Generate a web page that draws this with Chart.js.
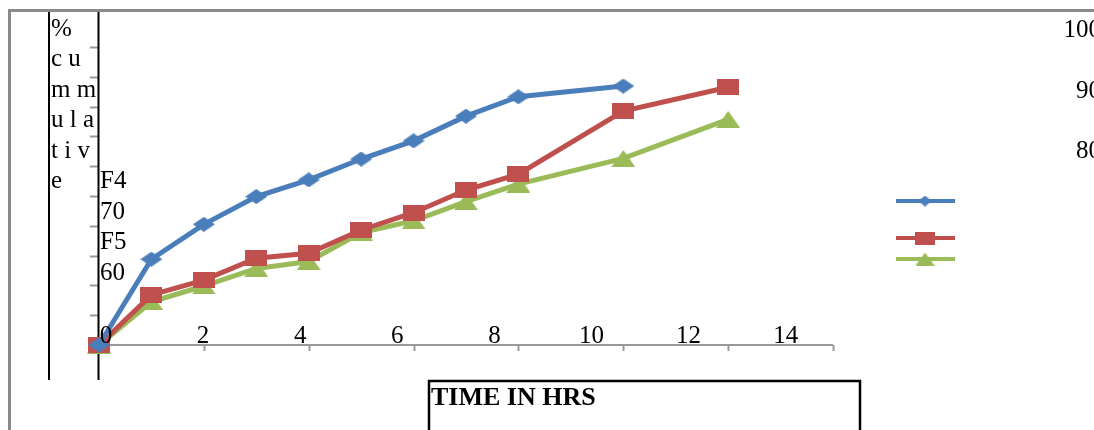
<!DOCTYPE html>
<html>
<head>
<meta charset="utf-8">
<script src="https://cdn.jsdelivr.net/npm/chart.js@4.4.1/dist/chart.umd.min.js"></script>
<style>
  html, body { margin: 0; padding: 0; background: #fff; }
  #wrap { width: 1094px; height: 430px; position: relative; }
</style>
</head>
<body>
<div id="wrap"><canvas id="chart" width="1094" height="430"></canvas></div>
<script>
// ── DATA ──
const hoursF3   = [0, 1, 2, 3, 4, 5, 6, 7, 8, 10];
const hoursF4F5 = [0, 1, 2, 3, 4, 5, 6, 7, 8, 10, 12];
const releaseF3 = [0, 28.8, 40.5, 49.8, 55.4, 62.4, 68.5, 76.8, 83.3, 86.9];
const releaseF4 = [0, 16.8, 21.8, 29.1, 30.8, 38.6, 44.4, 52.0, 57.3, 78.5, 86.5];
const releaseF5 = [0, 14.5, 19.8, 25.7, 28.0, 37.7, 41.7, 48.1, 54.0, 62.6, 75.7];
const seriesNames = ["F3", "F4", "F5"];
const xTicks = [0, 2, 4, 6, 8, 10, 12, 14];
const yTicks = [0, 10, 20, 30, 40, 50, 60, 70, 80, 90, 100];
const yTitleLines = ["%", "c u", "m m", "u l a", "t i v", "e"];
const xTitle = "TIME IN HRS";

const BLUE  = "#4a7ebb";
const RED   = "#c0504d";
const GREEN = "#9bbb59";
const FONT  = "25px 'Liberation Serif', 'Times New Roman', serif";

const pts = (xs, ys) => xs.map((x, i) => ({ x, y: ys[i] }));

// Excel-like markers are a bit wider than tall, so build them as small images
function marker(shape, w, h, color) {
  const c = document.createElement("canvas");
  c.width = w; c.height = h;
  const g = c.getContext("2d");
  g.fillStyle = color;
  g.beginPath();
  if (shape === "diamond") {
    g.moveTo(w / 2, 0); g.lineTo(w, h / 2); g.lineTo(w / 2, h); g.lineTo(0, h / 2);
  } else if (shape === "triangle") {
    g.moveTo(w / 2, 0); g.lineTo(w, h); g.lineTo(0, h);
  } else {
    g.rect(0, 0, w, h);
  }
  g.closePath();
  g.fill();
  return c;
}

// ── AXES, FRAME AND THE (SCRAMBLED) TEXT ──
const decor = {
  id: "decor",
  beforeDatasetsDraw(chart) {
    const { ctx, scales: { x, y } } = chart;
    ctx.save();
    // outer grey frame
    ctx.strokeStyle = "#8a8a8a";
    ctx.lineWidth = 3;
    ctx.beginPath();
    ctx.moveTo(9.5, 430); ctx.lineTo(9.5, 10.5); ctx.lineTo(1094, 10.5);
    ctx.stroke();

    // x axis + ticks
    ctx.strokeStyle = "#9a9a9a";
    ctx.lineWidth = 2;
    ctx.beginPath();
    ctx.moveTo(x.getPixelForValue(0), y.getPixelForValue(0));
    ctx.lineTo(x.getPixelForValue(14), y.getPixelForValue(0));
    xTicks.forEach(v => {
      const px = Math.round(x.getPixelForValue(v)) + 0.5;
      ctx.moveTo(px, y.getPixelForValue(0));
      ctx.lineTo(px, y.getPixelForValue(0) + 6);
    });
    ctx.stroke();

    // y ticks (left of the axis)
    ctx.beginPath();
    yTicks.forEach(v => {
      const py = Math.round(y.getPixelForValue(v)) + 0.5;
      ctx.moveTo(x.left - 9, py);
      ctx.lineTo(x.left, py);
    });
    ctx.stroke();

    // black vertical rules
    ctx.strokeStyle = "#000";
    ctx.lineWidth = 2;
    ctx.beginPath();
    ctx.moveTo(49, 12); ctx.lineTo(49, 380);
    ctx.moveTo(98.5, 12); ctx.lineTo(98.5, 380);
    ctx.stroke();
    ctx.restore();
  },
  afterDatasetsDraw(chart) {
    const { ctx, scales: { xLab } } = chart;
    ctx.save();
    ctx.fillStyle = "#000";
    ctx.font = FONT;
    ctx.textBaseline = "alphabetic";

    // y title broken into lines
    ctx.textAlign = "left";
    yTitleLines.forEach((t, i) => ctx.fillText(t, 51, 36 + i * 30.4));

    // series names and tick labels that slipped into the axis
    ctx.fillText(seriesNames[1], 100, 188);
    ctx.fillText(String(yTicks[7]), 100, 219);
    ctx.fillText(seriesNames[2], 100, 249);
    ctx.fillText(String(yTicks[6]), 100, 280);

    ctx.textAlign = "right";
    ctx.fillText(String(yTicks[10]), 1101, 37);
    ctx.fillText(String(yTicks[9]), 1101, 98);
    ctx.fillText(String(yTicks[8]), 1101, 158);

    // x tick labels (drawn above the axis line)
    ctx.textAlign = "center";
    xTicks.forEach(v => ctx.fillText(String(v), xLab.getPixelForValue(v), 343));

    // x title box
    ctx.strokeStyle = "#000";
    ctx.lineWidth = 2.5;
    ctx.strokeRect(429, 381, 431, 60);
    ctx.textAlign = "left";
    ctx.font = "bold 26px 'Liberation Serif', 'Times New Roman', serif";
    ctx.fillText(xTitle, 431, 405);

    // legend without text
    const legend = [
      { color: BLUE,  img: marker("diamond", 13, 11, BLUE),   y: 201 },
      { color: RED,   img: marker("rect", 20, 13, RED),        y: 238 },
      { color: GREEN, img: marker("triangle", 19, 13, GREEN),  y: 259 }
    ];
    legend.forEach(l => {
      ctx.strokeStyle = l.color;
      ctx.lineWidth = 4;
      ctx.beginPath();
      ctx.moveTo(896, l.y); ctx.lineTo(955, l.y);
      ctx.stroke();
      ctx.drawImage(l.img, 925 - l.img.width / 2, l.y - l.img.height / 2);
    });
    ctx.restore();
  }
};

const mkSet = (label, data, color, style) => ({
  label, data,
  borderColor: color,
  backgroundColor: color,
  borderWidth: 5,
  pointStyle: style,
  pointRadius: 10,
  pointHoverRadius: 10,
  tension: 0,
  clip: false
});

new Chart(document.getElementById("chart"), {
  type: "line",
  data: {
    datasets: [
      mkSet(seriesNames[0], pts(hoursF3, releaseF3), BLUE, marker("diamond", 22, 15, BLUE)),
      mkSet(seriesNames[1], pts(hoursF4F5, releaseF4), RED, marker("rect", 22, 16, RED)),
      mkSet(seriesNames[2], pts(hoursF4F5, releaseF5), GREEN, marker("triangle", 24, 17, GREEN))
    ]
  },
  options: {
    responsive: false,
    animation: false,
    layout: { padding: { left: 99, right: 261, top: 47, bottom: 85 } },
    plugins: { legend: { display: false }, tooltip: { enabled: false } },
    scales: {
      x:    { type: "linear", min: 0, max: 14, display: false },
      xLab: { type: "linear", axis: "x", min: -0.144, max: 14.974, display: false },
      y:    { type: "linear", min: 0, max: 100, display: false }
    }
  },
  plugins: [decor]
});
</script>
</body>
</html>
